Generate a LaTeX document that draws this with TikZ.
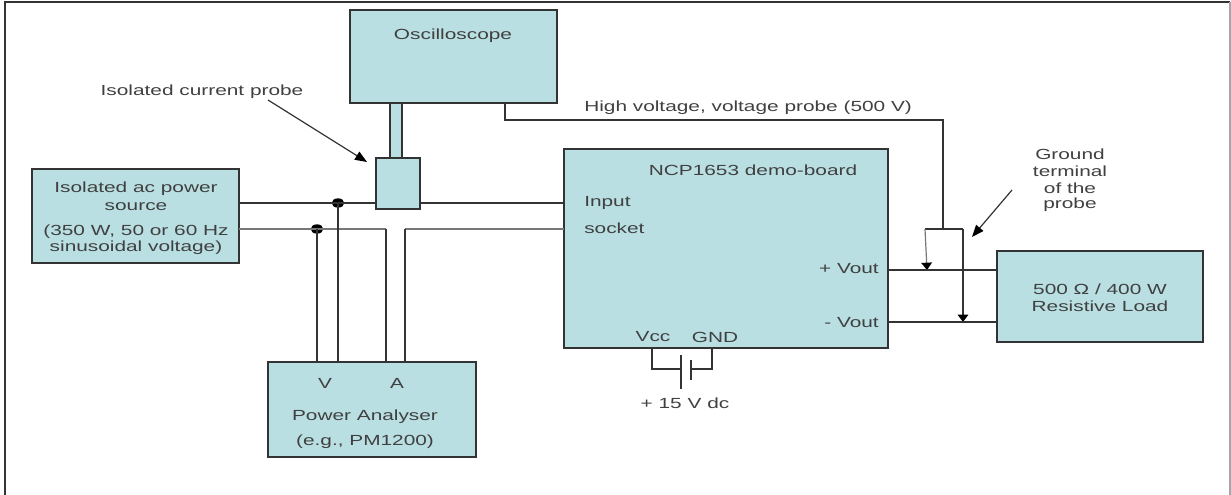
\documentclass[tikz,border=0pt]{standalone}
\usepackage{fontspec}
\setmainfont[FakeStretch=1.42]{Liberation Sans}
\usetikzlibrary{arrows.meta,shapes.geometric}
\definecolor{boxfill}{HTML}{B9DFE2}
\definecolor{ink}{HTML}{333333}
\definecolor{inktext}{HTML}{404040}
\definecolor{softwire}{HTML}{777777}
\tikzset{
  box/.style 2 args={draw=ink,fill=boxfill,line width=0.9pt,inner sep=0pt,outer sep=0pt,anchor=north west,minimum width=#1*0.75pt,minimum height=#2*0.75pt},
  lbl/.style={text=inktext,inner sep=0pt,font=\fontsize{11}{13}\selectfont},
  wire/.style={draw=ink,line width=0.9pt},
  softw/.style={draw=softwire,line width=0.9pt},
  dotn/.style={fill=black,draw=none,ellipse,minimum width=9.5pt,minimum height=7pt,inner sep=0pt},
  bigarrow/.style={draw=ink,line width=0.9pt,-{Triangle[length=9pt,width=7pt,color=black,fill=black]}},
  probearrow/.style={line width=0.9pt,-{Triangle[length=5.5pt,width=8pt,color=black,fill=black]}},
}
\begin{document}
\begin{tikzpicture}[x=0.75pt,y=-0.75pt]
\useasboundingbox (0,0) rectangle (1231,495);
% page frame
\draw[draw=ink,line width=0.9pt] (5,495) -- (5,2) -- (1230,2);
\draw[draw=gray!70,line width=0.9pt] (1230,2) -- (1230,495);
% boxes
\node[box={207}{93}] (scope) at (350,10) {};
\node[box={12}{55}] (cable) at (390,103) {};
\node[box={44}{51}] (probe) at (376,158) {};
\node[box={207}{94}] (source) at (32,169) {};
\node[box={324}{199}] (board) at (564,149) {};
\node[box={206}{91}] (load) at (997,251) {};
\node[box={208}{95}] (analyser) at (268,362) {};
% named points
\coordinate (hot) at (338,203);
\coordinate (ret) at (317,229);
\coordinate (ia) at (386,229);
\coordinate (ib) at (405,229);
\coordinate (vpa) at (505,120);
\coordinate (vpb) at (943,120);
\coordinate (vpc) at (943,229);
\coordinate (vpl) at (925,229);
\coordinate (vpr) at (963,229);
\coordinate (vpose) at (927,270);
\coordinate (vnose) at (963,322);
\coordinate (vcca) at (652,369);
\coordinate (gnda) at (712,369);
\node[dotn] (hotdot) at (hot) {};
\node[dotn] (retdot) at (ret) {};
% mains wires
\draw[wire] (source.east |- hot) -- (hot) -- (probe.west |- hot);
\draw[wire] (probe.east |- hot) -- (board.west |- hot);
\draw[softw] (source.east |- ret) -- (ret) -- (ia);
\draw[softw] (ib) -- (board.west |- ib);
\draw[wire] (hot) -- (analyser.north -| hot);
\draw[wire] (ret) -- (analyser.north -| ret);
\draw[wire] (ia) -- (analyser.north -| ia);
\draw[wire] (ib) -- (analyser.north -| ib);
% voltage probe
\draw[wire] (scope.south -| vpa) -- (vpa) -- (vpb) -- (vpc);
\draw[wire] (vpl) -- (vpr);
\draw[probearrow,draw=softwire] (vpl) -- (vpose);
\draw[probearrow,draw=ink] (vpr) -- (vnose);
% output wires
\draw[wire] (board.east |- vpose) -- (load.west |- vpose);
\draw[wire] (board.east |- vnose) -- (load.west |- vnose);
% battery
\coordinate (platea) at (681,369);
\coordinate (plateb) at (691,369);
\coordinate (pta) at (681,355);
\coordinate (ptb) at (681,389);
\coordinate (pba) at (691,360);
\coordinate (pbb) at (691,380);
\draw[wire] (board.south -| vcca) -- (vcca) -- (platea);
\draw[wire] (board.south -| gnda) -- (gnda) -- (plateb);
\draw[wire] (pta) -- (ptb);
\draw[wire] (pba) -- (pbb);
% arrows
\coordinate (cpa) at (268,100);
\coordinate (cpb) at (367,162);
\coordinate (gta) at (1012,190);
\coordinate (gtb) at (972,237);
\draw[bigarrow] (cpa) -- (cpb);
\draw[bigarrow] (gta) -- (gtb);
% labels
\node[lbl] (t1) at (453,36) {Oscilloscope};
\node[lbl] (t2) at (202,92) {Isolated current probe};
\node[lbl,anchor=west] (t3) at (584,108) {High voltage, voltage probe (500 V)};
\node[lbl] (t4) at (753,170) {NCP1653 demo-board};
\node[lbl,anchor=west] (t5) at (584,203) {Input};
\node[lbl,anchor=west] (t6) at (584,228) {socket};
\node[lbl,anchor=east] (t7) at (879,269) {+ Vout};
\node[lbl,anchor=east] (t8) at (879,323) {- Vout};
\node[lbl] (t9) at (653,337) {Vcc};
\node[lbl] (t10) at (715,337) {GND};
\node[lbl] (t11) at (685,403) {+ 15 V dc};
\node[lbl] (t12) at (1070,154) {Ground};
\node[lbl] (t13) at (1070,171) {terminal};
\node[lbl] (t14) at (1070,188) {of the};
\node[lbl] (t15) at (1070,205) {probe};
\node[lbl] (t16) at (1100,289) {500 Ω / 400 W};
\node[lbl] (t17) at (1100,306) {Resistive Load};
\node[lbl] (t18) at (136,189) {Isolated ac power};
\node[lbl] (t19) at (136,207) {source};
\node[lbl] (t20) at (136,232) {(350 W, 50 or 60 Hz};
\node[lbl] (t21) at (136,248) {sinusoidal voltage)};
\node[lbl] (t22) at (325,383) {V};
\node[lbl] (t23) at (397,383) {A};
\node[lbl] (t24) at (365,417) {Power Analyser};
\node[lbl] (t25) at (365,442) {(e.g., PM1200)};
\end{tikzpicture}
\end{document}
